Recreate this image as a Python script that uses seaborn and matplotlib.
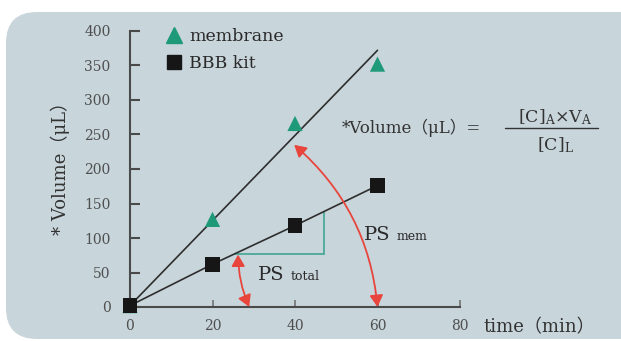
import numpy as np
import pandas as pd
import seaborn as sns
import matplotlib.pyplot as plt
from matplotlib.patches import FancyBboxPatch, FancyArrowPatch
from matplotlib.lines import Line2D

sns.set_style("white")
plt.rcParams["font.family"] = ["DejaVu Serif", "Noto Sans CJK JP", "DejaVu Sans"]
plt.rcParams["mathtext.fontset"] = "dejavuserif"

# ---- data -------------------------------------------------------------
time_min = [0, 20, 40, 60]
membrane_vol = [2, 127, 266, 352]
bbb_vol = [2, 62, 118, 176]
membrane_fit_t = [0, 60]
membrane_fit_v = [2, 372]
x_ticks = [0, 20, 40, 60, 80]
y_ticks = [0, 50, 100, 150, 200, 250, 300, 350, 400]

# level of the PS_total slope triangle
slope_level = 77
slope_end_t = 47

W, H = 621, 341
fig = plt.figure(figsize=(W / 100, H / 100), dpi=100)
fig.patch.set_facecolor("white")


def fx(px):
    return px / W


def fy(py):
    return 1 - py / H


# rounded panel behind the chart
panel = FancyBboxPatch((fx(6), fy(339)), fx(700), fy(12) - fy(339),
                       boxstyle="round,pad=0,rounding_size=0.05",
                       transform=fig.transFigure, facecolor="#c8d5db",
                       edgecolor="none", zorder=-10, mutation_aspect=W / H)
fig.patches.append(panel)

ax = fig.add_axes([fx(130), fy(307), fx(460) - fx(130), fy(31) - fy(307)])
ax.set_facecolor("none")
ax.set_zorder(2)

dark = "#2e2e2e"
green = "#1f9a78"
teal = "#4aa898"
red = "#e8453c"
txt = "#333333"

df = pd.DataFrame({"time": time_min, "membrane": membrane_vol, "bbb": bbb_vol})
fit = pd.DataFrame({"time": membrane_fit_t, "vol": membrane_fit_v})

sns.lineplot(data=fit, x="time", y="vol", ax=ax, color=dark, lw=1.2,
             estimator=None, clip_on=False, zorder=3)
sns.lineplot(data=df, x="time", y="bbb", ax=ax, color=dark, lw=1.2,
             estimator=None, clip_on=False, zorder=3)
sns.scatterplot(data=df, x="time", y="membrane", ax=ax, marker="^", s=120,
                color=green, edgecolor="none", clip_on=False, zorder=5)
sns.scatterplot(data=df, x="time", y="bbb", ax=ax, marker="s", s=110,
                color="#161616", edgecolor="none", clip_on=False, zorder=6)

# slope triangle for PS_total
order = np.argsort(bbb_vol)
t_start = np.interp(slope_level, np.array(bbb_vol)[order], np.array(time_min)[order])
v_end = np.interp(slope_end_t, time_min, bbb_vol)
ax.plot([t_start, slope_end_t], [slope_level, slope_level], color=teal, lw=1.3, zorder=2)
ax.plot([slope_end_t, slope_end_t], [slope_level, v_end], color=teal, lw=1.3, zorder=2)

# PS arrows
arr_kw = dict(arrowstyle="<|-|>,head_length=7,head_width=4", color=red, lw=1.3,
              shrinkA=0, shrinkB=0, zorder=7, clip_on=False)
ax.add_patch(FancyArrowPatch((26.2, 76), (28.9, 0),
                             connectionstyle="arc3,rad=0.1", **arr_kw))
ax.add_patch(FancyArrowPatch((39.8, 235), (60, 0),
                             connectionstyle="arc3,rad=-0.2", **arr_kw))

ax.set_xlim(0, 80)
ax.set_ylim(0, 400)
ax.set_xticks(x_ticks)
ax.set_yticks(y_ticks)
ax.set_xlabel("")
ax.set_ylabel("")
for s in ["top", "right"]:
    ax.spines[s].set_visible(False)
for s in ["left", "bottom"]:
    ax.spines[s].set_color("#4a4a4a")
    ax.spines[s].set_linewidth(1.5)
ax.tick_params(axis="y", left=True, direction="in", length=7, width=1.5,
               color="#4a4a4a", pad=14, labelsize=10, labelcolor="#4f4f4f")
ax.tick_params(axis="x", bottom=True, direction="in", length=5, width=1.1,
               color="#6a6a6a", pad=9, labelsize=10, labelcolor="#4f4f4f")

# legend
handles = [
    Line2D([], [], marker="^", color=green, ls="none", markersize=11),
    Line2D([], [], marker="s", color="#161616", ls="none", markersize=10),
]
fig.legend(handles, ["membrane", "BBB kit"], loc="upper left",
           bbox_to_anchor=(fx(151), fy(12)), frameon=False, fontsize=12.5,
           handlelength=0.9, handletextpad=0.4, labelspacing=0.6,
           labelcolor="#2a2a2a")

# labels
fig.text(fx(60), fy(164), "* Volume（μL）", rotation=90, ha="center", va="center",
         fontsize=13, color=txt)
fig.text(fx(483), fy(327), "time（min）", ha="left", va="center",
         fontsize=13, color=txt)

fig.text(fx(258), fy(275), "PS", ha="left", va="center", fontsize=14, color="#2a2a2a")
fig.text(fx(291), fy(277), "total", ha="left", va="center", fontsize=9, color="#2a2a2a")
fig.text(fx(364), fy(235), "PS", ha="left", va="center", fontsize=14, color="#2a2a2a")
fig.text(fx(397), fy(237), "mem", ha="left", va="center", fontsize=9, color="#2a2a2a")

# volume formula
fig.text(fx(342), fy(128), "*Volume（μL）=", ha="left", va="center",
         fontsize=12, color=txt)
fig.text(fx(555), fy(117), r"[C]$_\mathrm{A}$×V$_\mathrm{A}$", ha="center",
         va="center", fontsize=12.5, color=txt)
fig.text(fx(555), fy(145), r"[C]$_\mathrm{L}$", ha="center", va="center",
         fontsize=12.5, color=txt)
fig.add_artist(Line2D([fx(505), fx(598)], [fy(128), fy(128)],
                      transform=fig.transFigure, color=txt, lw=1.0))

fig.savefig("out.png", dpi=100, facecolor=fig.get_facecolor())
